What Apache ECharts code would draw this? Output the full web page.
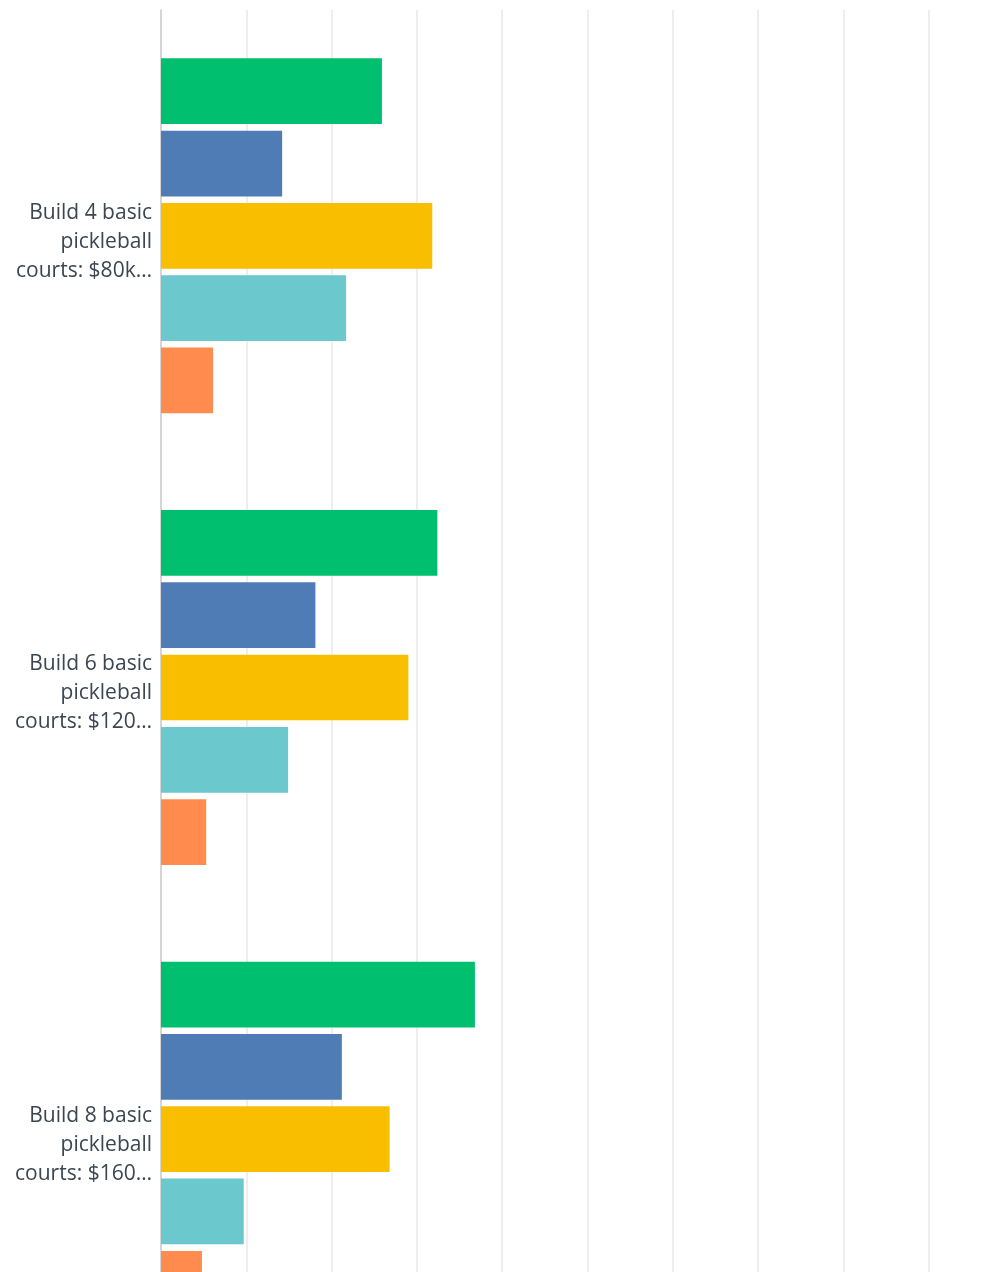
<!DOCTYPE html>
<html>
<head>
<meta charset="utf-8">
<script src="https://cdn.jsdelivr.net/npm/echarts@6/dist/echarts.min.js"></script>
<style>
  html, body { margin: 0; padding: 0; background: #fff; overflow: hidden; }
  #chart { width: 1030px; height: 1400px; }
</style>
</head>
<body>
<div id="chart"></div>
<script>
// Answer options (truncated the way they are shown on the axis)
const categories = [
  'Build 4 basic\npickleball\ncourts: $80k…',
  'Build 6 basic\npickleball\ncourts: $120…',
  'Build 8 basic\npickleball\ncourts: $160…'
];

// Share of respondents (%) per rating, one array per rating level
const rating1 = [25.9, 32.4, 36.8];
const rating2 = [14.2, 18.1, 21.2];
const rating3 = [31.8, 29.0, 26.8];
const rating4 = [21.7, 14.9, 9.7];
const rating5 = [6.1, 5.3, 4.8];

const seriesData = [
  { name: 'Rating 1', values: rating1, color: '#00BF6F' },
  { name: 'Rating 2', values: rating2, color: '#507CB6' },
  { name: 'Rating 3', values: rating3, color: '#F9BE00' },
  { name: 'Rating 4', values: rating4, color: '#6BC8CD' },
  { name: 'Rating 5', values: rating5, color: '#FF8B4F' }
];

const chart = echarts.init(document.getElementById('chart'), null, { renderer: 'canvas' });

chart.setOption({
  animation: false,
  backgroundColor: '#ffffff',
  grid: { left: 161, right: 16, top: 10, height: 1355, containLabel: false },
  xAxis: {
    type: 'value',
    min: 0,
    max: 100,
    interval: 10,
    axisLine: { show: false },
    axisTick: { show: false },
    axisLabel: { show: false },
    splitLine: { show: true, lineStyle: { color: '#e9e9e9', width: 1.5 } }
  },
  yAxis: {
    type: 'category',
    inverse: true,
    data: categories,
    axisLine: { show: true, lineStyle: { color: '#cccccc', width: 1.5 } },
    axisTick: { show: false },
    axisLabel: {
      margin: 9,
      color: '#3b4650',
      fontFamily: 'Open Sans',
      fontSize: 21,
      lineHeight: 29,
      align: 'right',
      // a thin spacer line nudges the three-line label slightly downward
      formatter: v => '{s| }\n' + v,
      rich: { s: { fontSize: 1, lineHeight: 12 } }
    }
  },
  series: seriesData.map(s => ({
    name: s.name,
    type: 'bar',
    data: s.values,
    barGap: '10%',
    barCategoryGap: '21.4%',
    itemStyle: { color: s.color },
    emphasis: { disabled: true }
  }))
});
</script>
</body>
</html>
